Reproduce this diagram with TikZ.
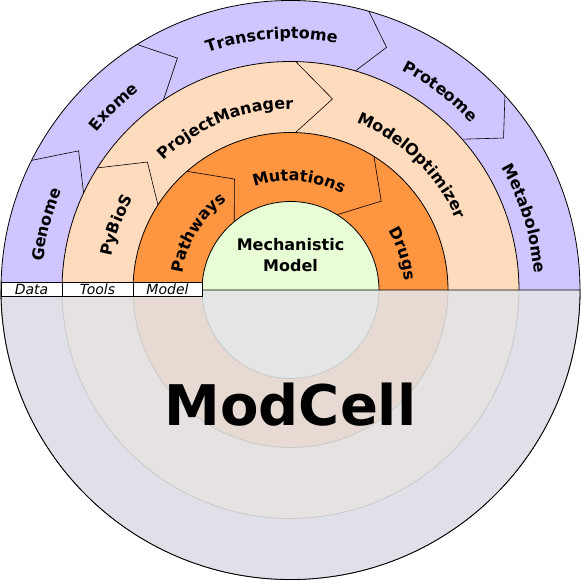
\documentclass[tikz,border=0pt]{standalone}
\usepackage{fontspec}
\setmainfont{DejaVu Sans}
\usetikzlibrary{decorations.text}
\definecolor{omics}{RGB}{209,197,255}
\definecolor{tools}{RGB}{255,219,189}
\definecolor{model}{RGB}{254,149,64}
\definecolor{mech}{RGB}{232,252,214}
\definecolor{veil}{RGB}{227,228,231}
\newcommand{\ringfont}{\bfseries\fontsize{16}{18}\selectfont}
\begin{document}
\begin{tikzpicture}[every node/.style={align=center}]
        \tikzstyle{ring}=[draw=black, line width=0.8pt];
        \tikzstyle{seam}=[draw=black, line width=0.6pt, line join=miter];
        \tikzstyle{layerbox}=[draw=black, fill=white, line width=0.6pt, inner sep=0pt, minimum height=14pt, font=\itshape\fontsize{14}{14}\selectfont];
        \tikzset{ringlabel/.style={decorate, decoration={text along path, text align=center, text={|\ringfont|#1}}}}
        \useasboundingbox (-290.5pt,-291pt) rectangle (290.5pt,290pt);
        \fill[ring, fill=omics] (0,0) circle (289.5pt);
        \fill[ring, fill=tools] (0,0) circle (228.5pt);
        \fill[ring, fill=model] (0,0) circle (157.5pt);
        \fill[ring, fill=mech] (0,0) circle (88.5pt);
        \foreach \a/\b/\c/\ro/\rt/\ri in {153.4/146.7/154.9/289.5/253.5/228.5, 122/116/123.8/289.5/258/228.5,
                74.3/68.4/73.5/289.5/261/228.5, 42.2/35.5/41.3/289.5/261.7/228.5,
                147.7/138.2/147.3/228.5/192/157.5, 88.7/77.6/88.2/228.5/195.6/157.5,
                131.1/116.8/129.5/157.5/124.3/88.5, 58/44.4/58.3/157.5/127/88.5}
            \draw[seam] (\a:\ro pt) -- (\b:\rt pt) -- (\c:\ri pt);
        \path[ringlabel=Genome] (190:249pt) arc[start angle=190, end angle=140, radius=249pt];
        \path[ringlabel=Exome] (159:250pt) arc[start angle=159, end angle=109, radius=250pt];
        \path[ringlabel=Transcriptome] (124.3:251.5pt) arc[start angle=124.3, end angle=64.3, radius=251.5pt];
        \path[ringlabel=Proteome] (78:246pt) arc[start angle=78, end angle=28, radius=246pt];
        \path[ringlabel=Metabolome] (42:244pt) arc[start angle=42, end angle=-8, radius=244pt];
        \path[ringlabel=PyBioS] (189.6:182pt) arc[start angle=189.6, end angle=129.6, radius=182pt];
        \path[ringlabel=ProjectManager] (146.8:181pt) arc[start angle=146.8, end angle=76.8, radius=181pt];
        \path[ringlabel=ModelOptimizer] (80.8:180pt) arc[start angle=80.8, end angle=10.8, radius=180pt];
        \path[ringlabel=Pathways] (183.3:109.5pt) arc[start angle=183.3, end angle=113.3, radius=109.5pt];
        \path[ringlabel=Mutations] (120.5:109pt) arc[start angle=120.5, end angle=50.5, radius=109pt];
        \path[ringlabel=Drugs] (48:114.5pt) arc[start angle=48, end angle=-12, radius=114.5pt];
        \node[font=\bfseries\fontsize{16}{21}\selectfont] (mechmodel) at (0,34.5pt) {Mechanistic\\Model};
        \draw[ring, fill=veil, fill opacity=0.88] (-289.5pt,0) arc[start angle=180, end angle=360, radius=289.5pt] -- cycle;
        \node[layerbox, minimum width=61pt] (data) at (-259pt,1pt) {Data};
        \node[layerbox, minimum width=71pt] (tools) at (-193pt,1pt) {Tools};
        \node[layerbox, minimum width=69pt] (model) at (-123pt,1pt) {Model};
        \node[font=\bfseries\fontsize{56}{60}\selectfont, anchor=base] (modcell) at (0,-135pt) {ModCell};
    \end{tikzpicture}
\end{document}
